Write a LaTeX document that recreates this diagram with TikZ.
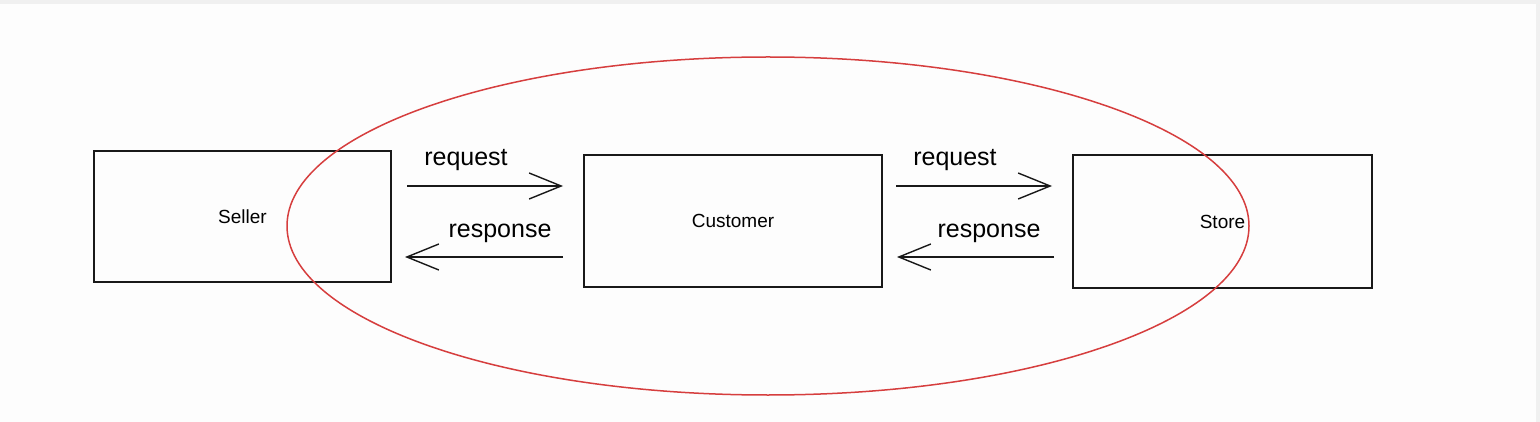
\documentclass[tikz,border=0pt]{standalone}
\usepackage{fontspec}
\setmainfont{Liberation Sans}
\usetikzlibrary{arrows.meta}
\definecolor{ellred}{RGB}{214,62,62}
\definecolor{bgc}{RGB}{253,253,253}
\definecolor{edgec}{RGB}{240,240,240}
\begin{document}
\begin{tikzpicture}[x=1pt,y=-1pt,
  boxnode/.style={draw=black!90,line width=1.6pt,minimum width=297pt,minimum height=131pt,inner sep=0pt,font=\fontsize{19}{22}\selectfont},
  lbl/.style={font=\fontsize{25}{28}\selectfont,inner sep=0pt,text=black},
  flow/.style={draw=black!90,line width=1.8pt,-{Straight Barb[length=32pt,width=26pt,line width=1.4pt]}}]
\fill[bgc] (0,0) rectangle (1540,422);
\fill[edgec] (0,0) rectangle (1540,4);
\fill[edgec] (1536,0) rectangle (1540,422);
\useasboundingbox (0,0) rectangle (1540,422);
\node[boxnode] (seller) at (242.5,216.5) {Seller};
\node[boxnode,minimum width=298pt,minimum height=132pt] (customer) at (733,221) {Customer};
\node[boxnode,minimum width=299pt,minimum height=133pt] (store) at (1222.5,221.5) {Store};
\coordinate (r1s) at (407,186);
\coordinate (r1e) at (563,186);
\coordinate (p1s) at (563,257);
\coordinate (p1e) at (405,257);
\coordinate (r2s) at (896,186);
\coordinate (r2e) at (1052,186);
\coordinate (p2s) at (1054,257);
\coordinate (p2e) at (897,257);
\draw[flow] (r1s) -- (r1e);
\draw[flow] (p1s) -- (p1e);
\draw[flow] (r2s) -- (r2e);
\draw[flow] (p2s) -- (p2e);
\node[lbl] (lr1) at (466,160) {request};
\node[lbl] (lp1) at (500,233) {response};
\node[lbl] (lr2) at (955,160) {request};
\node[lbl] (lp2) at (989,233) {response};
\draw[ellred,line width=1.5pt] (768,226) ellipse [x radius=481pt,y radius=169pt];
\end{tikzpicture}
\end{document}
